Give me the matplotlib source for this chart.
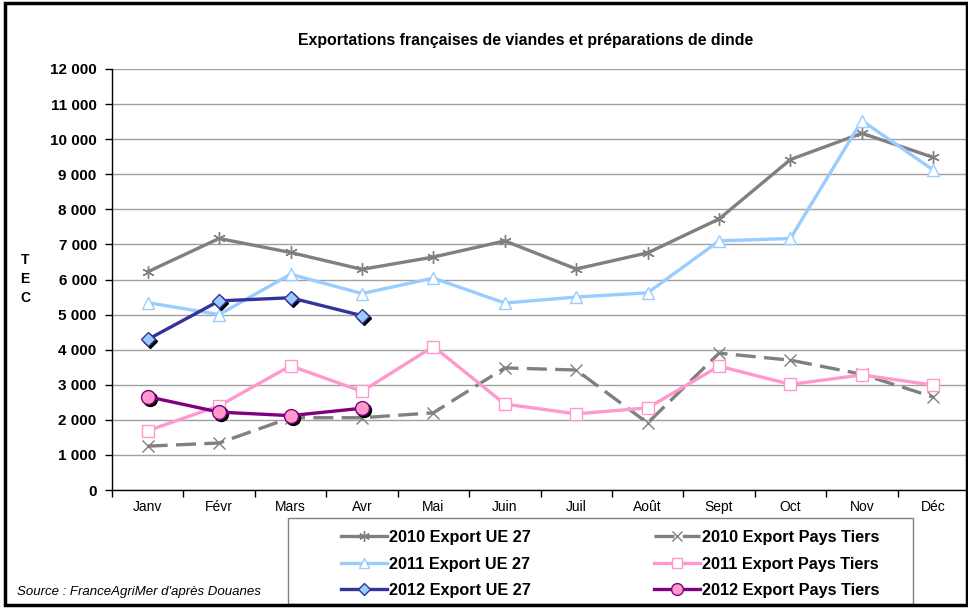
import numpy as np
import matplotlib.pyplot as plt
from matplotlib.patches import Rectangle
from matplotlib.ticker import FuncFormatter
import matplotlib.transforms as mtrans

plt.rcParams['font.family'] = ['Liberation Sans', 'DejaVu Sans']

# données (TEC)
mois = ['Janv', 'Févr', 'Mars', 'Avr', 'Mai', 'Juin', 'Juil', 'Août', 'Sept', 'Oct', 'Nov', 'Déc']
ue_2010 = [6220, 7170, 6770, 6290, 6640, 7100, 6300, 6760, 7725, 9420, 10170, 9480]
ue_2011 = [5340, 5000, 6150, 5600, 6040, 5330, 5500, 5620, 7100, 7170, 10530, 9120]
ue_2012 = [4290, 5390, 5480, 4970]
pt_2010 = [1250, 1340, 2060, 2060, 2200, 3480, 3420, 1910, 3900, 3700, 3300, 2650]
pt_2011 = [1690, 2400, 3540, 2810, 4090, 2450, 2170, 2340, 3530, 3010, 3280, 2990]
pt_2012 = [2660, 2220, 2120, 2330]

W, H = 968, 608
fig = plt.figure(figsize=(9.68, 6.08), dpi=100)
ax = fig.add_axes([112 / W, 118 / H, 857 / W, 421 / H])

x = np.arange(12)
x4 = np.arange(4)
lw = 2.4
gris = '#808080'
bleu_clair = '#99CCFF'
rose = '#FF99CC'
bleu = '#333399'
violet = '#800080'

l1, = ax.plot(x, ue_2010, color=gris, lw=lw, marker=(6, 2, 0), ms=9, mec=gris, mew=1,
              label='2010 Export UE 27', zorder=3)
l4, = ax.plot(x, pt_2010, color=gris, lw=lw, dashes=(6, 2.5), marker='x', ms=9, mec=gris, mew=1,
              label='2010 Export Pays Tiers', zorder=3)
l2, = ax.plot(x, ue_2011, color=bleu_clair, lw=lw, marker='^', ms=8, mfc='white', mec=bleu_clair, mew=1,
              label='2011 Export UE 27', zorder=4)
l5, = ax.plot(x, pt_2011, color=rose, lw=lw, marker='s', ms=8, mfc='white', mec=rose, mew=1,
              label='2011 Export Pays Tiers', zorder=4)

# ombre des marqueurs 2012
ombre = ax.transData + mtrans.ScaledTranslation(2 / 100, -2 / 100, fig.dpi_scale_trans)
ax.plot(x4, ue_2012, ls='none', marker='D', ms=7, color='black', transform=ombre, zorder=5)
ax.plot(x4, pt_2012, ls='none', marker='o', ms=10, color='black', transform=ombre, zorder=5)
l3, = ax.plot(x4, ue_2012, color=bleu, lw=lw, marker='D', ms=7, mfc=bleu_clair, mec=bleu, mew=1,
              label='2012 Export UE 27', zorder=6)
l6, = ax.plot(x4, pt_2012, color=violet, lw=lw, marker='o', ms=10, mfc=rose, mec=violet, mew=1,
              label='2012 Export Pays Tiers', zorder=6)

ax.set_xlim(-0.5, 11.5)
ax.set_ylim(0, 12000)
ax.set_yticks(np.arange(0, 12001, 1000))
ax.yaxis.set_major_formatter(FuncFormatter(lambda v, p: f'{int(v):,}'.replace(',', ' ')))
ax.grid(axis='y', color='#A0A0A0', lw=1)
ax.set_axisbelow(True)
ax.set_xticks(x)
ax.set_xticklabels(mois, fontsize=10)
ax.set_xticks(np.arange(-0.5, 12, 1), minor=True)
ax.tick_params(axis='x', which='major', length=0, pad=7)
ax.tick_params(axis='x', which='minor', length=5, direction='out', width=1)
ax.tick_params(axis='y', length=5, direction='out', width=1, pad=6)
for lab in ax.get_yticklabels():
    lab.set_fontsize(11)
    lab.set_fontweight('bold')
for s in ['top', 'right']:
    ax.spines[s].set_visible(False)
for s in ['left', 'bottom']:
    ax.spines[s].set_color('black')
    ax.spines[s].set_linewidth(1)

fig.text(526 / W, 1 - 40 / H, 'Exportations françaises de viandes et préparations de dinde',
         ha='center', va='center', fontsize=11.4, fontweight='bold')
fig.text(25 / W, 1 - 279 / H, 'T\nE\nC', ha='center', va='center', fontsize=10,
         fontweight='bold', linespacing=1.45)
fig.text(17 / W, 1 - 592 / H, "Source : FranceAgriMer d'après Douanes", ha='left', va='center',
         fontsize=9.5, style='italic')

leg = fig.legend(handles=[l1, l2, l3, l4, l5, l6], ncol=2, loc='upper left',
                 bbox_to_anchor=(333 / W, 1 - 522 / H), frameon=False, borderpad=0,
                 handlelength=2.8, handletextpad=0.15, columnspacing=7.6, labelspacing=0.7,
                 markerscale=0.85, prop={'size': 11.7, 'weight': 'bold'})

# cadres
fig.patches.append(Rectangle((288 / W, 1 - 604 / H), 625 / W, 86 / H, transform=fig.transFigure,
                             fill=False, edgecolor=gris, lw=1, zorder=0))
fig.patches.append(Rectangle((5 / W, 3 / H), 962 / W, 602 / H, transform=fig.transFigure,
                             fill=False, edgecolor='black', lw=2.5))

plt.savefig('out.png', dpi=100)
